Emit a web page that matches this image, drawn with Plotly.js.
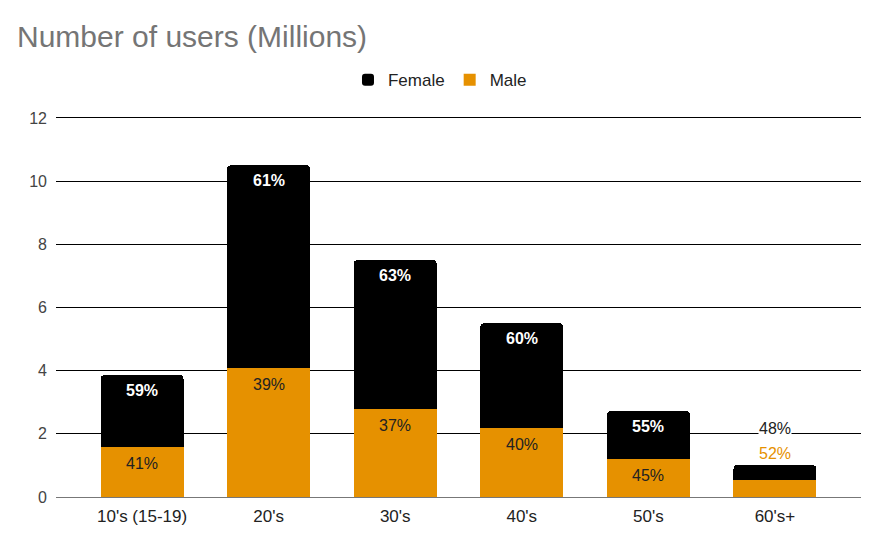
<!DOCTYPE html>
<html>
<head>
<meta charset="utf-8">
<script src="https://cdn.plot.ly/plotly-3.0.1.min.js"></script>
<style>html,body{margin:0;padding:0;background:#fff;}#chart{width:881px;height:542px;}</style>
</head>
<body>
<div id="chart"></div>
<script>
const categories = ["10's (15-19)", "20's", "30's", "40's", "50's", "60's+"];
const maleValues = [1.58, 4.08, 2.78, 2.18, 1.2, 0.54];
const femaleValues = [2.28, 6.42, 4.72, 3.32, 1.52, 0.47];
const malePct = ["41%", "39%", "37%", "40%", "45%", "52%"];
const femalePct = ["59%", "61%", "63%", "60%", "55%", "48%"];
const outsideLabel = [false, false, false, false, false, true];

const ORANGE = '#e69100';
const FONT = 'Arial, "Liberation Sans", sans-serif';
const traces = [
  {type:'bar', name:'Male', x:categories, y:maleValues, marker:{color:ORANGE}, width:0.655, hoverinfo:'skip'},
  {type:'bar', name:'Female', x:categories, y:femaleValues, marker:{color:'#000000', cornerradius:4}, width:0.655, hoverinfo:'skip'}
];

const annotations = [];
categories.forEach((c,i)=>{
  const total = maleValues[i] + femaleValues[i];
  if (outsideLabel[i]) {
    annotations.push({x:c, y:total, xref:'x', yref:'y', text:femalePct[i], showarrow:false, yshift:37,
      font:{family:FONT, size:16, color:'#222'}, bgcolor:'#ffffff', borderpad:0});
    annotations.push({x:c, y:total, xref:'x', yref:'y', text:malePct[i], showarrow:false, yshift:12,
      font:{family:FONT, size:16, color:ORANGE}});
  } else {
    annotations.push({x:c, y:total, xref:'x', yref:'y', text:'<b>'+femalePct[i]+'</b>', showarrow:false, yshift:-15,
      font:{family:FONT, size:16, color:'#ffffff'}});
    annotations.push({x:c, y:maleValues[i], xref:'x', yref:'y', text:malePct[i], showarrow:false, yshift:-16,
      font:{family:FONT, size:16, color:'#222'}});
  }
});

const layout = {
  width:881, height:542,
  margin:{l:56, r:20, t:116, b:45},
  paper_bgcolor:'#fff', plot_bgcolor:'#fff',
  barmode:'stack',
  title:{text:'Number of users (Millions)', x:0, xref:'container', xanchor:'left', y:0.932, yref:'container', yanchor:'middle',
    font:{family:FONT, size:30, color:'#757575'}, pad:{l:17}},
  legend:{orientation:'h', x:0.477, xanchor:'center', y:1.094, yanchor:'middle', traceorder:'reversed',
    font:{family:FONT, size:17, color:'#222'}, itemwidth:30},
  xaxis:{type:'category', range:[-0.68, 5.68], tickfont:{family:FONT, size:17, color:'#222'}, tickangle:0,
    showgrid:false, ticks:'', ticklabelstandoff:7, fixedrange:true, automargin:false},
  yaxis:{range:[0,12.06], dtick:2, tick0:0, gridcolor:'#000', gridwidth:1, zeroline:true, zerolinecolor:'#777', zerolinewidth:1,
    tickfont:{family:FONT, size:16, color:'#444'}, ticks:'', ticklabelstandoff:8, fixedrange:true, automargin:false},
  annotations:annotations,
  showlegend:true
};
Plotly.newPlot('chart', traces, layout, {displayModeBar:false, staticPlot:true});
</script>
</body>
</html>
